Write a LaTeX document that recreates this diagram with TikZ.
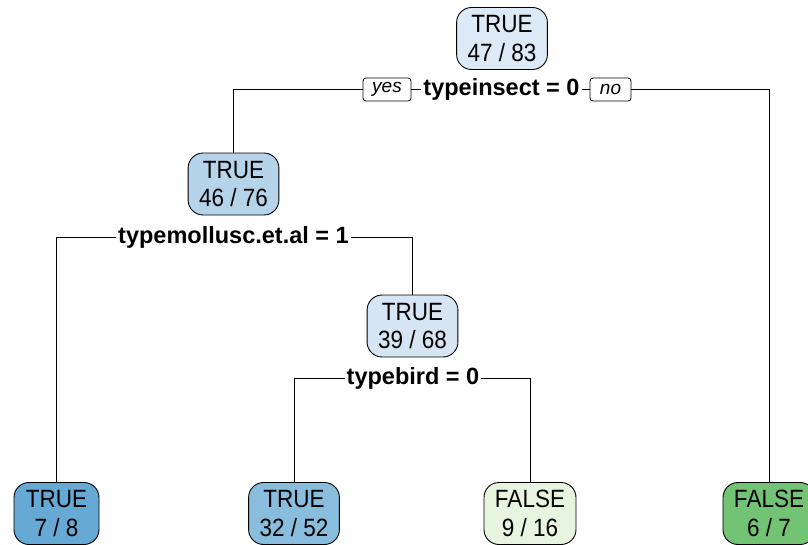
\documentclass[tikz,border=0pt]{standalone}
\usepackage{fontspec}
\setmainfont{Liberation Sans}
\newfontfamily\nodefont[FakeStretch=0.9]{Liberation Sans}
\begin{document}
\begin{tikzpicture}[x=1pt,y=-1pt,
  treenode/.style={draw=black, line width=0.9pt, rounded corners=15pt, align=center,
    font=\nodefont\fontsize{25}{28.5}\selectfont, inner xsep=11pt, inner ysep=0pt,
    minimum height=62pt},
  splitlabel/.style={font=\fontsize{23.5}{26}\selectfont\bfseries, inner sep=0pt},
  tag/.style={draw=black, line width=0.8pt, rounded corners=3pt, font=\fontsize{19}{21}\selectfont\itshape,
    minimum height=23pt, inner sep=0pt},
  edge/.style={line width=0.9pt}]
\definecolor{cRoot}{RGB}{220,233,246}
\definecolor{cA}{RGB}{181,212,233}
\definecolor{cB}{RGB}{213,229,243}
\definecolor{cL1}{RGB}{103,169,213}
\definecolor{cL2}{RGB}{136,189,221}
\definecolor{cL3}{RGB}{230,244,224}
\definecolor{cL4}{RGB}{114,196,116}
\useasboundingbox (0,0) rectangle (808,544);

% inner nodes
\node[treenode, fill=cRoot] (root) at (502,38.5) {TRUE\\47 / 83};
\node[treenode, fill=cA] (n2) at (233.5,184) {TRUE\\46 / 76};
\node[treenode, fill=cB] (n3) at (412.5,326) {TRUE\\39 / 68};

% leaves
\node[treenode, fill=cL1, minimum width=85pt] (l1) at (56.5,513.5) {TRUE\\7 / 8};
\node[treenode, fill=cL2] (l2) at (294,513.5) {TRUE\\32 / 52};
\node[treenode, fill=cL3] (l3) at (530,513.5) {FALSE\\9 / 16};
\node[treenode, fill=cL4] (l4) at (769,513.5) {FALSE\\6 / 7};

% split labels with yes/no tags
\node[splitlabel] (s1) at (501.5,89.5) {typeinsect = 0};
\node[tag, minimum width=48pt] (yes) at (387,89.5) {yes};
\node[tag, minimum width=41pt] (no) at (610.5,89.5) {no};
\node[splitlabel] (s2) at (233.5,237) {typemollusc.et.al = 1};
\node[splitlabel] (s3) at (413,378) {typebird = 0};

% connectors
\draw[edge] (n2.north) |- (yes.west);
\draw[edge] (yes.east) -- ([xshift=-2pt]s1.west);
\draw[edge] ([xshift=2pt]s1.east) -- (no.west);
\draw[edge] (no.east) -| (l4.north);
\draw[edge] ([xshift=-2pt]s2.west) -| (l1.north);
\draw[edge] ([xshift=2pt]s2.east) -| (n3.north);
\draw[edge] ([xshift=-2pt]s3.west) -| (l2.north);
\draw[edge] ([xshift=2pt]s3.east) -| (l3.north);
\end{tikzpicture}
\end{document}
